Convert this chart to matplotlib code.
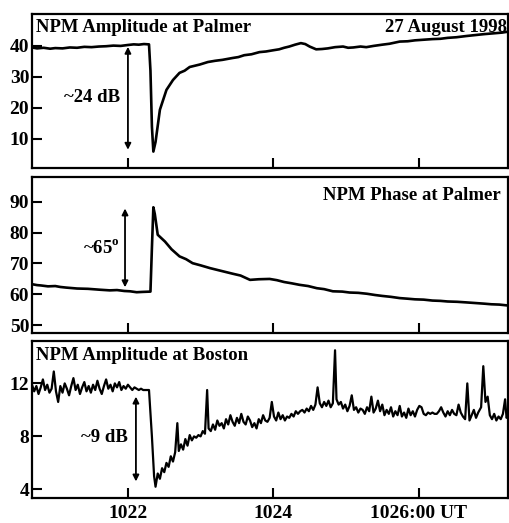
import matplotlib
matplotlib.use("Agg")
import matplotlib.pyplot as plt

# time axis in minutes after 10:00 UT
palmer_amp_t = [20.68, 20.75, 20.84, 20.93, 21.0, 21.1, 21.2, 21.3, 21.4, 21.5,
                21.6, 21.7, 21.8, 21.9, 22.0, 22.08, 22.15, 22.22, 22.29,
                22.31, 22.33, 22.35, 22.38, 22.44, 22.53, 22.62, 22.71, 22.78, 22.85,
                22.92, 22.99, 23.1, 23.2, 23.3, 23.44, 23.52, 23.6, 23.7, 23.81,
                23.9, 24.0, 24.08, 24.15, 24.22, 24.3, 24.38, 24.44, 24.5, 24.59,
                24.67, 24.75, 24.85, 24.96, 25.03, 25.1, 25.2, 25.28, 25.38, 25.5,
                25.6, 25.74, 25.85, 25.95, 26.07, 26.19, 26.3, 26.4, 26.52, 26.66,
                26.78, 26.9, 27.05, 27.15, 27.23]
palmer_amp_v = [39.5, 39.2, 39.4, 39.1, 39.3, 39.2, 39.5, 39.4, 39.7, 39.6,
                39.8, 39.9, 40.1, 40.0, 40.3, 40.5, 40.4, 40.6, 40.5,
                32.0, 14.0, 5.9, 9.0, 19.4, 25.8, 29.0, 31.3, 32.0, 33.2,
                33.6, 34.0, 34.8, 35.2, 35.5, 36.1, 36.4, 37.0, 37.3, 38.0,
                38.2, 38.6, 38.9, 39.4, 39.8, 40.4, 40.9, 40.6, 39.8, 38.9,
                39.0, 39.2, 39.6, 39.8, 39.4, 39.5, 39.8, 39.6, 40.0, 40.4,
                40.7, 41.4, 41.5, 41.8, 42.0, 42.2, 42.3, 42.6, 42.8, 43.2,
                43.5, 43.8, 44.1, 44.3, 44.6]

palmer_phase_t = [20.68, 20.75, 20.8, 20.9, 21.0, 21.07, 21.15, 21.3, 21.45, 21.62,
                  21.75, 21.85, 21.95, 22.03, 22.12, 22.2, 22.31, 22.33,
                  22.35, 22.37, 22.41, 22.51, 22.6, 22.71, 22.8, 22.89, 23.0, 23.13,
                  23.25, 23.44, 23.55, 23.68, 23.8, 23.95, 24.05, 24.15, 24.25, 24.36,
                  24.48, 24.6, 24.7, 24.82, 24.95, 25.05, 25.17, 25.29, 25.4, 25.5,
                  25.62, 25.74, 25.85, 25.95, 26.07, 26.19, 26.3, 26.4, 26.53, 26.66,
                  26.78, 26.9, 27.0, 27.11, 27.23]
palmer_phase_v = [63.3, 63.0, 62.9, 62.6, 62.7, 62.4, 62.2, 61.9, 61.8, 61.5,
                  61.3, 61.4, 61.1, 61.0, 60.7, 60.8, 60.9, 75.0,
                  88.2, 86.0, 79.3, 77.1, 74.6, 72.3, 71.4, 70.1, 69.4, 68.5,
                  67.8, 66.7, 66.1, 64.7, 64.9, 65.0, 64.6, 64.0, 63.6, 63.1,
                  62.7, 62.0, 61.7, 61.0, 60.9, 60.6, 60.5, 60.2, 59.8, 59.5,
                  59.2, 58.8, 58.6, 58.4, 58.3, 58.0, 57.9, 57.7, 57.6, 57.4,
                  57.2, 57.0, 56.8, 56.7, 56.4]

boston_t = [20.68, 20.71, 20.74, 20.77, 20.80, 20.83, 20.86, 20.89, 20.92, 20.95,
            20.98, 21.01, 21.04, 21.07, 21.10, 21.13, 21.16, 21.19, 21.22, 21.25,
            21.28, 21.31, 21.34, 21.37, 21.40, 21.43, 21.46, 21.49, 21.52, 21.55,
            21.58, 21.61, 21.64, 21.67, 21.70, 21.73, 21.76, 21.79, 21.82, 21.85,
            21.88, 21.91, 21.94, 21.97, 22.00, 22.03, 22.06, 22.09, 22.12, 22.15,
            22.18, 22.21, 22.25, 22.29, 22.33, 22.36, 22.38, 22.41, 22.44, 22.47,
            22.50, 22.53, 22.56, 22.59, 22.62, 22.65, 22.68, 22.70, 22.73, 22.76,
            22.79, 22.82, 22.85, 22.88, 22.91, 22.94, 22.97, 23.00, 23.03, 23.06,
            23.09, 23.11, 23.14, 23.17, 23.20, 23.23, 23.26, 23.29, 23.32, 23.35,
            23.38, 23.41, 23.44, 23.47, 23.50, 23.53, 23.56, 23.59, 23.62, 23.65,
            23.68, 23.71, 23.74, 23.77, 23.80, 23.83, 23.86, 23.89, 23.92, 23.95,
            23.98, 24.01, 24.04, 24.07, 24.10, 24.13, 24.16, 24.19, 24.22, 24.25,
            24.28, 24.31, 24.34, 24.37, 24.40, 24.43, 24.46, 24.49, 24.52, 24.55,
            24.58, 24.61, 24.64, 24.67, 24.70, 24.73, 24.76, 24.79, 24.82, 24.85,
            24.87, 24.90, 24.93, 24.96, 24.99, 25.02, 25.05, 25.08, 25.11, 25.14,
            25.17, 25.20, 25.23, 25.26, 25.29, 25.32, 25.35, 25.38, 25.41, 25.44,
            25.47, 25.50, 25.53, 25.56, 25.59, 25.62, 25.65, 25.68, 25.71, 25.74,
            25.77, 25.80, 25.83, 25.86, 25.89, 25.92, 25.95, 25.98, 26.01, 26.04,
            26.07, 26.10, 26.13, 26.16, 26.19, 26.22, 26.25, 26.28, 26.31, 26.34,
            26.37, 26.40, 26.43, 26.46, 26.49, 26.52, 26.55, 26.58, 26.61, 26.64,
            26.67, 26.70, 26.73, 26.76, 26.79, 26.82, 26.86, 26.89, 26.92, 26.95,
            26.98, 27.01, 27.04, 27.07, 27.10, 27.13, 27.16, 27.19, 27.21, 27.23]
boston_v = [11.9, 11.4, 11.8, 11.2, 11.7, 12.3, 11.5, 11.9, 11.3, 11.6,
            12.9, 11.4, 10.6, 11.8, 11.3, 12.0, 11.6, 11.1, 11.8, 12.4,
            11.5, 11.9, 11.2, 11.7, 12.1, 11.4, 11.8, 11.3, 11.9, 11.5,
            12.2, 11.6, 11.2, 11.8, 12.3, 11.6, 11.9, 11.4, 12.0, 11.7,
            12.1, 11.5, 11.8, 11.6, 11.9, 11.7, 11.5, 11.7, 11.6, 11.5,
            11.6, 11.5, 11.5, 11.5, 8.0, 5.0, 4.2, 5.2, 4.8, 5.6,
            5.3, 6.0, 5.7, 6.5, 6.1, 6.8, 9.0, 6.9, 7.4, 7.0,
            7.8, 7.3, 8.1, 7.7, 8.0, 7.9, 8.1, 8.0, 8.4, 8.2,
            11.5, 8.6, 8.4, 8.9, 8.5, 9.2, 8.8, 9.0, 8.6, 9.3,
            8.9, 9.6, 9.1, 8.8, 9.4, 9.0, 9.7, 9.1, 8.9, 9.5,
            9.2, 8.7, 9.0, 8.6, 9.3, 9.0, 9.6, 9.2, 9.1, 9.4,
            10.6, 9.5, 9.2, 9.8, 9.3, 9.6, 9.2, 9.5, 9.4, 9.7,
            9.5, 9.9, 9.7, 9.9, 10.0, 9.8, 10.1, 9.9, 10.3, 10.0,
            10.4, 11.7, 10.5, 10.2, 10.6, 10.3, 10.7, 10.2, 10.5, 14.5,
            10.8, 10.4, 10.6, 10.1, 10.4, 9.9, 10.3, 11.1, 10.0, 10.2,
            9.8, 10.1, 10.0, 9.7, 10.2, 9.9, 11.0, 9.8, 10.1, 10.7,
            9.9, 10.4, 9.6, 10.0, 9.7, 10.2, 9.5, 9.9, 9.6, 10.3,
            9.5, 9.8, 9.4, 10.1, 9.6, 9.9, 9.5, 10.0, 10.3, 10.2,
            9.7, 9.6, 9.8, 9.7, 9.8, 9.7, 9.7, 9.9, 10.2, 9.8,
            9.5, 9.9, 9.6, 10.0, 9.7, 9.6, 10.4, 9.8, 9.5, 9.3,
            12.0, 9.2, 9.6, 10.0, 9.4, 9.8, 10.2, 13.3, 10.6, 11.0,
            9.6, 9.3, 9.7, 9.2, 9.5, 9.3, 9.7, 10.8, 9.4, 9.6]

xticks = [22, 24, 26]
xtick_labels = ["1022", "1024", "1026:00 UT"]

plt.rcParams["font.family"] = "Liberation Serif"
plt.rcParams["font.weight"] = "bold"
plt.rcParams["mathtext.fontset"] = "custom"
plt.rcParams["mathtext.rm"] = "Liberation Serif:bold"

fig = plt.figure(figsize=(5.09, 5.23), dpi=100)
left, width = 32 / 509, 476 / 509
ax_top = fig.add_axes([left, 1 - 168 / 523, width, 154 / 523])
ax_mid = fig.add_axes([left, 1 - 333 / 523, width, 156 / 523])
ax_bot = fig.add_axes([left, 1 - 498 / 523, width, 157 / 523])

for ax in (ax_top, ax_mid, ax_bot):
    ax.set_xlim(20.68, 27.23)
    ax.set_xticks(xticks)
    ax.tick_params(direction="in", length=7, width=1.5, labelsize=14, pad=2,
                   top=False, right=False)
    for sp in ax.spines.values():
        sp.set_linewidth(1.6)

ax_top.set_xticklabels([])
ax_mid.set_xticklabels([])
ax_bot.set_xticklabels(xtick_labels, fontweight="bold")
ax_bot.tick_params(axis="x", pad=5)

lw = 1.9
arrow = dict(arrowstyle="<|-|>", color="black", lw=1.3, mutation_scale=9,
             shrinkA=0, shrinkB=0)
txt = 13.5

# top: amplitude at Palmer
ax_top.plot(palmer_amp_t, palmer_amp_v, color="black", lw=lw)
ax_top.set_ylim(0.6, 50.3)
ax_top.set_yticks([10, 20, 30, 40])
ax_top.annotate("", xy=(22.0, 39.7), xytext=(22.0, 6.5), arrowprops=arrow)
ax_top.text(21.5, 23.5, "~24 dB", ha="center", va="center", fontsize=txt)
ax_top.text(0.008, 0.965, "NPM Amplitude at Palmer", transform=ax_top.transAxes,
            ha="left", va="top", fontsize=txt)
ax_top.text(0.998, 0.97, "27 August 1998", transform=ax_top.transAxes,
            ha="right", va="top", fontsize=txt)

# middle: phase at Palmer
ax_mid.plot(palmer_phase_t, palmer_phase_v, color="black", lw=lw)
ax_mid.set_ylim(47.5, 98)
ax_mid.set_yticks([50, 60, 70, 80, 90])
ax_mid.annotate("", xy=(21.96, 87.8), xytext=(21.96, 62.3), arrowprops=arrow)
ax_mid.text(21.63, 75, "~65$^\\mathrm{o}$", ha="center", va="center",
            fontsize=txt)
ax_mid.text(0.985, 0.935, "NPM Phase at Palmer", transform=ax_mid.transAxes,
            ha="right", va="top", fontsize=txt)

# bottom: amplitude at Boston
ax_bot.plot(boston_t, boston_v, color="black", lw=1.6)
ax_bot.set_ylim(3.35, 15.2)
ax_bot.set_yticks([4, 8, 12])
ax_bot.annotate("", xy=(22.11, 11.0), xytext=(22.11, 4.6), arrowprops=arrow)
ax_bot.text(21.68, 7.9, "~9 dB", ha="center", va="center", fontsize=txt)
ax_bot.text(0.008, 0.96, "NPM Amplitude at Boston", transform=ax_bot.transAxes,
            ha="left", va="top", fontsize=txt)

fig.savefig("out.png", dpi=100)
